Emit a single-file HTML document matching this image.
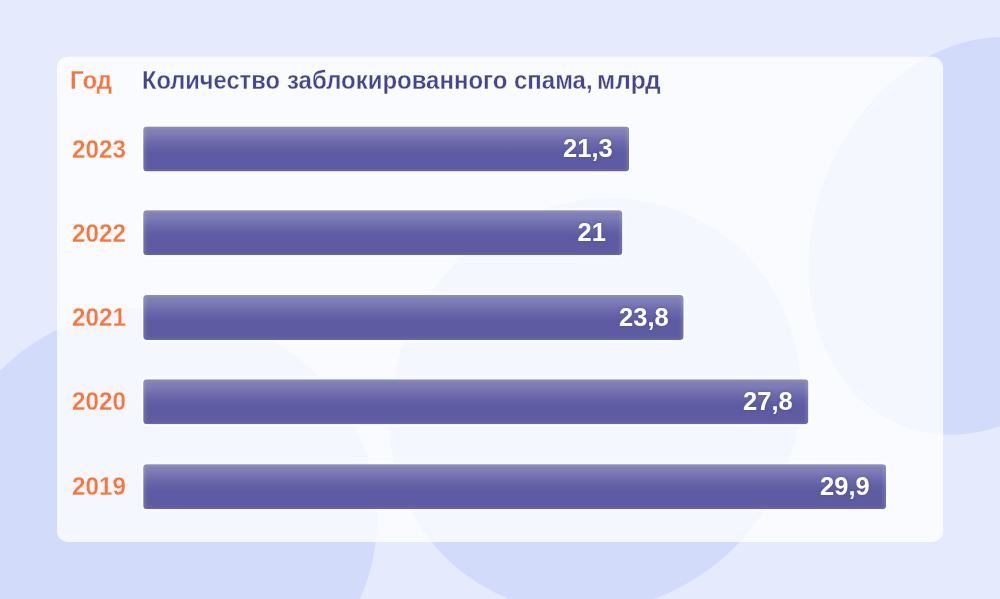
<!DOCTYPE html>
<html lang="ru"><head><meta charset="utf-8"><title>Количество заблокированного спама</title>
<style>
html,body{margin:0;padding:0}
body{width:1000px;height:599px;overflow:hidden;position:relative;background:#e5eafd;font-family:"Liberation Sans",sans-serif;font-weight:bold;-webkit-text-stroke:0.3px #f8faff}
#bg{position:absolute;left:0;top:0}
.hd{position:absolute;top:60px;height:40px;line-height:40px;font-size:25px;white-space:nowrap}
#h1{left:70.2px;color:#ff7134;transform-origin:0 50%;transform:scaleX(0.963)}
#h2{left:0;width:1000px;color:#47438f}
.w{position:absolute;top:0;display:inline-block;transform-origin:0 50%;white-space:nowrap}
.yr{position:absolute;left:72px;height:40px;line-height:40px;font-size:25px;color:#ff7134;white-space:nowrap;transform-origin:0 50%;transform:scaleX(0.97)}
.val{-webkit-text-stroke:0;position:absolute;height:40px;line-height:40px;font-size:25px;color:#fff;white-space:nowrap;transform-origin:100% 50%;transform:scaleX(1.02);text-shadow:0 0 3px rgba(70,65,140,.55)}
</style></head><body>
<svg id="bg" width="1000" height="599" viewBox="0 0 1000 599">
<defs>
<linearGradient id="tg" x1="0" y1="0" x2="0" y2="1"><stop offset="0" stop-color="#fff" stop-opacity=".22"/><stop offset=".16" stop-color="#fff" stop-opacity=".2"/><stop offset=".33" stop-color="#fff" stop-opacity=".1"/><stop offset=".5" stop-color="#fff" stop-opacity=".025"/><stop offset=".6" stop-color="#fff" stop-opacity="0"/></linearGradient>
<filter id="si" x="-5%" y="-30%" width="110%" height="160%"><feGaussianBlur stdDeviation="1.8"/></filter>
<filter id="so" x="-5%" y="-30%" width="110%" height="160%"><feGaussianBlur stdDeviation=".8"/></filter>
</defs>
<ellipse cx="160.3" cy="513.6" rx="217.4" ry="205.7" transform="rotate(13.6 160.3 513.6)" fill="#d3dbfb"/>
<ellipse cx="595" cy="405.3" rx="213.3" ry="199" transform="rotate(-47.8 595 405.3)" fill="#d3dbfb"/>
<ellipse cx="977.2" cy="235.8" rx="204" ry="162.5" transform="rotate(-68.3 977.2 235.8)" fill="#d3dbfb"/>
<rect x="57" y="56.7" width="886.1" height="485.2" rx="10.5" fill="#fff" fill-opacity="0.78"/>
<rect x="141.70" y="125.00" width="488.95" height="48.00" rx="5" fill="#fff" fill-opacity=".9" filter="url(#so)"/>
<clipPath id="c0"><rect x="143.20" y="126.50" width="485.95" height="45" rx="4"/></clipPath>
<g clip-path="url(#c0)"><rect x="143.20" y="126.50" width="485.95" height="45" fill="#5e5ba3"/>
<rect x="143.20" y="126.50" width="485.95" height="45" fill="url(#tg)"/>
<rect x="143.20" y="126.00" width="485.95" height="47.2" rx="4" fill="none" stroke="#fff" stroke-opacity="0.13" stroke-width="5" filter="url(#si)"/></g>
<rect x="141.70" y="208.70" width="482.20" height="48.00" rx="5" fill="#fff" fill-opacity=".9" filter="url(#so)"/>
<clipPath id="c1"><rect x="143.20" y="210.20" width="479.20" height="45" rx="4"/></clipPath>
<g clip-path="url(#c1)"><rect x="143.20" y="210.20" width="479.20" height="45" fill="#5e5ba3"/>
<rect x="143.20" y="210.20" width="479.20" height="45" fill="url(#tg)"/>
<rect x="143.20" y="209.70" width="479.20" height="47.2" rx="4" fill="none" stroke="#fff" stroke-opacity="0.13" stroke-width="5" filter="url(#si)"/></g>
<rect x="141.70" y="293.50" width="543.45" height="48.00" rx="5" fill="#fff" fill-opacity=".9" filter="url(#so)"/>
<clipPath id="c2"><rect x="143.20" y="295.00" width="540.45" height="45" rx="4"/></clipPath>
<g clip-path="url(#c2)"><rect x="143.20" y="295.00" width="540.45" height="45" fill="#5e5ba3"/>
<rect x="143.20" y="295.00" width="540.45" height="45" fill="url(#tg)"/>
<rect x="143.20" y="294.50" width="540.45" height="47.2" rx="4" fill="none" stroke="#fff" stroke-opacity="0.13" stroke-width="5" filter="url(#si)"/></g>
<rect x="141.70" y="377.80" width="668.20" height="48.00" rx="5" fill="#fff" fill-opacity=".9" filter="url(#so)"/>
<clipPath id="c3"><rect x="143.20" y="379.30" width="665.20" height="45" rx="4"/></clipPath>
<g clip-path="url(#c3)"><rect x="143.20" y="379.30" width="665.20" height="45" fill="#5e5ba3"/>
<rect x="143.20" y="379.30" width="665.20" height="45" fill="url(#tg)"/>
<rect x="143.20" y="378.80" width="665.20" height="47.2" rx="4" fill="none" stroke="#fff" stroke-opacity="0.13" stroke-width="5" filter="url(#si)"/></g>
<rect x="141.70" y="462.70" width="745.95" height="48.00" rx="5" fill="#fff" fill-opacity=".9" filter="url(#so)"/>
<clipPath id="c4"><rect x="143.20" y="464.20" width="742.95" height="45" rx="4"/></clipPath>
<g clip-path="url(#c4)"><rect x="143.20" y="464.20" width="742.95" height="45" fill="#5e5ba3"/>
<rect x="143.20" y="464.20" width="742.95" height="45" fill="url(#tg)"/>
<rect x="143.20" y="463.70" width="742.95" height="47.2" rx="4" fill="none" stroke="#fff" stroke-opacity="0.13" stroke-width="5" filter="url(#si)"/></g>
</svg>
<div class="hd" id="h1">Год</div>
<div class="hd" id="h2"><span class="w" style="left:142.42px;transform:scaleX(0.9461)">Количество</span> <span class="w" style="left:287.30px;transform:scaleX(0.9586)">заблокированного</span> <span class="w" style="left:514.30px;transform:scaleX(0.9593)">спама,</span> <span class="w" style="left:596.69px;transform:scaleX(0.9801)">млрд</span> </div>
<div class="yr" style="top:129px">2023</div>
<div class="val" style="top:128px;right:387.25px">21,3</div>
<div class="yr" style="top:213px">2022</div>
<div class="val" style="top:212px;right:394.00px">21</div>
<div class="yr" style="top:297px">2021</div>
<div class="val" style="top:297px;right:331.35px">23,8</div>
<div class="yr" style="top:381px">2020</div>
<div class="val" style="top:381px;right:207.00px">27,8</div>
<div class="yr" style="top:466px">2019</div>
<div class="val" style="top:466px;right:130.25px">29,9</div>

</body></html>
